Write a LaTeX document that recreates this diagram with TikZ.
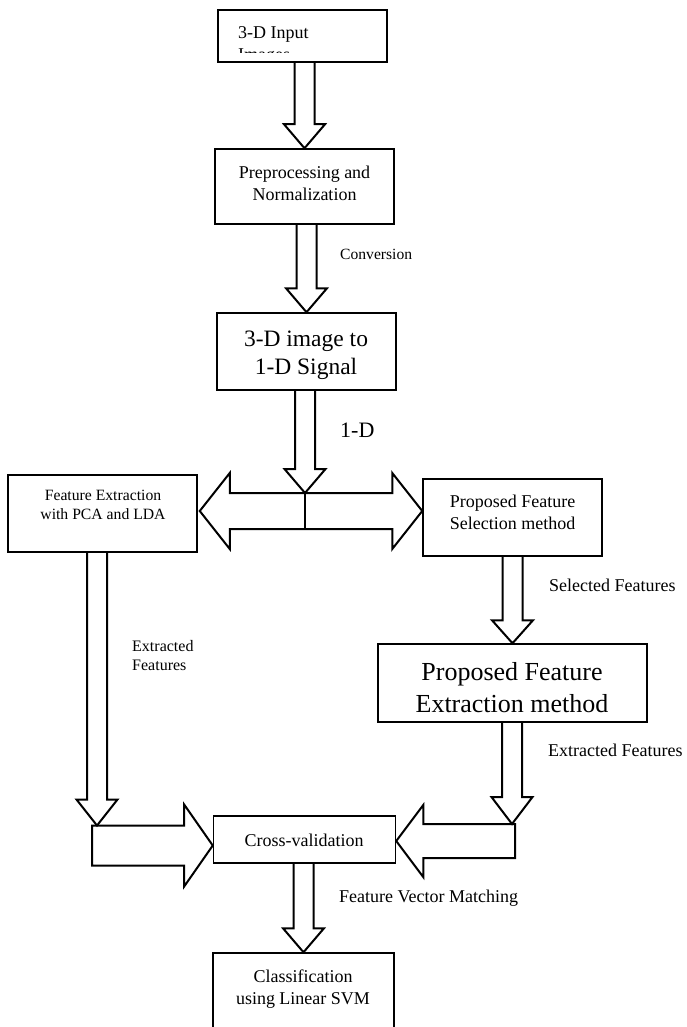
\documentclass[tikz,border=0pt]{standalone}
\usepackage{fontspec}
\setmainfont{Liberation Serif}
\usetikzlibrary{calc}
\newcommand{\fsz}[2]{\fontsize{#1}{#2}\selectfont}
\newcommand{\vblk}[3]{\draw[blk] let \p1=(#1), \p2=(#2) in (\x2-10pt,\y1) -- (\x2-10pt,\y2+#3) -- (\x2-20.5pt,\y2+#3) -- (\x2,\y2) -- (\x2+20.5pt,\y2+#3) -- (\x2+10pt,\y2+#3) -- (\x2+10pt,\y1);}
\begin{document}
\begin{tikzpicture}[x=1pt,y=-1pt,
  box/.style={draw,line width=1.5pt,inner sep=0pt},
  txt/.style={inner sep=0pt,align=center},
  lbl/.style={inner sep=0pt,anchor=base west},
  blk/.style={draw,line width=2pt,line join=miter}]
\useasboundingbox (0,0) rectangle (686,1027);
% boxes
\node[box,minimum width=169pt,minimum height=52pt] (in) at (302.5,36) {};
\node[box,minimum width=179pt,minimum height=75pt] (pre) at (304.5,186.5) {};
\node[box,minimum width=179pt,minimum height=77pt] (conv) at (306.5,351.5) {};
\node[box,minimum width=189pt,minimum height=77pt] (fe) at (102.5,513.5) {};
\node[box,minimum width=179pt,minimum height=77pt] (pfs) at (512.5,517.5) {};
\node[box,minimum width=269pt,minimum height=78pt] (pfe) at (512.5,683) {};
\node[box,minimum width=182pt,minimum height=47pt] (cv) at (304.5,839.5) {};
\node[box,minimum width=181pt,minimum height=100pt] (cls) at (303.5,1003) {};
% box texts
\node[txt,font=\fsz{18}{22},anchor=base west] (inA) at (238,39) {3-D Input};
\begin{scope}
  \clip (219,11) rectangle (386,53);
  \node[txt,font=\fsz{18}{22},anchor=base west] (inB) at (238,61) {Images};
\end{scope}
\node[txt,font=\fsz{18}{22},anchor=north] (preT) at (304.5,165.7) {Preprocessing and\\Normalization};
\node[txt,font=\fsz{23.5}{28},anchor=north] (convT) at (306,331.1) {3-D image to\\1-D Signal};
\node[txt,font=\fsz{15.7}{18.7},anchor=north] (feT) at (103,490.3) {Feature Extraction\\with PCA and LDA};
\node[txt,font=\fsz{18}{22},anchor=north] (pfsT) at (512.5,494.7) {Proposed Feature\\Selection method};
\node[txt,font=\fsz{26}{32},anchor=north] (pfeT) at (512,662.2) {Proposed Feature\\Extraction method};
\node[txt,font=\fsz{18}{22},anchor=base] (cvT) at (304,846) {Cross-validation};
\node[txt,font=\fsz{18}{22},anchor=north] (clsT) at (303,969.7) {Classification\\using Linear SVM};
% labels
\node[lbl,font=\fsz{15.6}{18}] (lconv) at (340,259) {Conversion};
\node[lbl,font=\fsz{22}{26}] (l1d) at (340,437) {1-D};
\node[lbl,font=\fsz{18}{22}] (lsel) at (549,591) {Selected Features};
\node[lbl,font=\fsz{18}{22}] (lext) at (548,756) {Extracted Features};
\node[txt,align=left,anchor=north west,font=\fsz{16}{18.7}] (lextl) at (132,640.1) {Extracted\\Features};
\node[lbl,font=\fsz{18}{22}] (lfvm) at (339,902) {Feature Vector Matching};
% key coordinates
\coordinate (split) at (305,493);
\coordinate (h1tip) at ($(cv.west)+(0,6)$);
\coordinate (h2tip) at ($(cv.east)+(0,1.5)$);
\path let \p1=(h1tip) in coordinate (h1top) at (97pt,\y1+20pt);
\path let \p1=(h2tip) in coordinate (h2top) at (512pt,\y1+17pt);
% vertical block arrows
\vblk{in.south}{pre.north}{24pt}
\vblk{pre.south}{conv.north}{24pt}
\vblk{conv.south}{split}{24pt}
\vblk{pfs.south}{pfe.north}{23pt}
\vblk{fe.south}{h1top}{26pt}
\vblk{pfe.south}{h2top}{27pt}
\vblk{cv.south}{cls.north}{24pt}
% double block arrow
\draw[blk] let \p1=(fe.east), \p2=(pfs.west), \p3=(split) in
  (\x1+2pt,\y3-18pt) -- (\x1+32pt,\y3+20pt) -- (\x1+32pt,\y3) -- (\x2-30pt,\y3)
  -- (\x2-30pt,\y3+20pt) -- (\x2,\y3-18pt) -- (\x2-30pt,\y3-56pt) -- (\x2-30pt,\y3-36pt)
  -- (\x1+32pt,\y3-36pt) -- (\x1+32pt,\y3-56pt) -- cycle;
\draw[blk] (split) -- ++(0,36);
% horizontal block arrows into cross-validation
\draw[blk] let \p1=(h1tip) in (92pt,\y1+20pt) -- (\x1-28.6pt,\y1+20pt) -- (\x1-28.6pt,\y1+41pt)
  -- (\x1,\y1) -- (\x1-28.6pt,\y1-41pt) -- (\x1-28.6pt,\y1-20pt) -- (92pt,\y1-20pt) -- cycle;
\draw[blk] let \p1=(h2tip) in (515pt,\y1+17pt) -- (\x1+27pt,\y1+17pt) -- (\x1+27pt,\y1+36pt)
  -- (\x1,\y1) -- (\x1+27pt,\y1-36pt) -- (\x1+27pt,\y1-17pt) -- (515pt,\y1-17pt) -- cycle;
\end{tikzpicture}
\end{document}
